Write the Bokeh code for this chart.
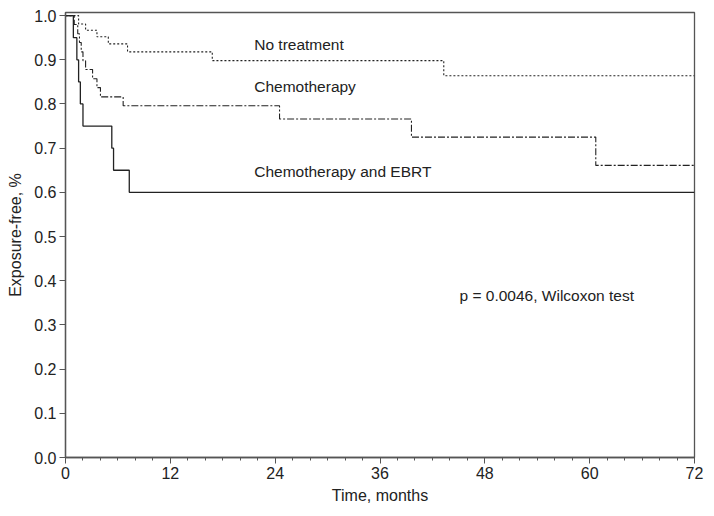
from bokeh.plotting import figure
from bokeh.models import Range1d, FixedTicker, Label, PrintfTickFormatter
from bokeh.embed import file_html
from bokeh.resources import INLINE

# --- data (Kaplan-Meier step curves) ---
nt_time = [0, 1.5, 2.3, 3.6, 4.9, 7.1, 16.8, 43.3, 72]
nt_surv = [1.0, 0.981, 0.967, 0.952, 0.936, 0.918, 0.898, 0.864, 0.864]

ch_time = [0, 1.0, 1.4, 1.6, 1.8, 2.0, 2.3, 3.1, 3.6, 4.0, 6.6, 24.5, 39.6, 60.7, 72]
ch_surv = [1.0, 0.980, 0.959, 0.939, 0.918, 0.898, 0.878, 0.857, 0.837, 0.816, 0.796, 0.766, 0.725, 0.661, 0.661]

ce_time = [0, 0.9, 1.3, 1.5, 1.7, 2.0, 5.3, 5.5, 7.3, 72]
ce_surv = [1.0, 0.95, 0.90, 0.85, 0.80, 0.75, 0.70, 0.65, 0.60, 0.60]

x_ticks = [0, 12, 24, 36, 48, 60, 72]
x_minor = list(range(0, 73, 2))
y_ticks = [0.0, 0.1, 0.2, 0.3, 0.4, 0.5, 0.6, 0.7, 0.8, 0.9, 1.0]

labels = ["No treatment", "Chemotherapy", "Chemotherapy and EBRT"]
p_text = "p = 0.0046, Wilcoxon test"

FONT = "Liberation Sans"
INK = "#222222"
AX = "#555555"

p = figure(width=708, height=508, output_backend="svg", toolbar_location=None,
           x_range=Range1d(0, 72), y_range=Range1d(0, 1.007),
           min_border_left=65, min_border_right=14, min_border_top=12, min_border_bottom=51)

p.xgrid.visible = False
p.ygrid.visible = False
p.background_fill_color = "white"
p.border_fill_color = "white"
p.outline_line_color = AX
p.outline_line_width = 1.3

p.step(nt_time, nt_surv, mode="after", line_color=INK, line_width=1.1, line_dash="2 2")
p.step(ch_time, ch_surv, mode="after", line_color=INK, line_width=1.1, line_dash="7 2 2 2")
p.step(ce_time, ce_surv, mode="after", line_color=INK, line_width=1.3)

for ax in (p.xaxis[0], p.yaxis[0]):
    ax.axis_line_color = AX
    ax.axis_line_width = 1.3
    ax.major_tick_line_color = AX
    ax.minor_tick_line_color = AX
    ax.major_tick_out = 6
    ax.major_tick_in = 0
    ax.major_label_text_font = FONT
    ax.major_label_text_font_size = "16px"
    ax.major_label_text_color = INK
    ax.axis_label_text_font = FONT
    ax.axis_label_text_font_size = "16px"
    ax.axis_label_text_font_style = "normal"
    ax.axis_label_text_color = INK

p.xaxis.ticker = FixedTicker(ticks=x_ticks, minor_ticks=x_minor)
p.xaxis.minor_tick_out = 3
p.xaxis.minor_tick_in = 0
p.xaxis.axis_label = "Time, months"
p.xaxis.axis_label_standoff = 5
p.xaxis.major_label_standoff = 3

p.yaxis.ticker = FixedTicker(ticks=y_ticks, minor_ticks=[])
p.yaxis.formatter = PrintfTickFormatter(format="%.1f")
p.yaxis.axis_label = "Exposure-free, %"
p.yaxis.axis_label_standoff = 7
p.yaxis.major_label_standoff = 3

label_pos = [(21.6, 0.934), (21.6, 0.839), (21.6, 0.647)]
for txt, (lx, ly) in zip(labels, label_pos):
    p.add_layout(Label(x=lx, y=ly, text=txt, text_font=FONT, text_font_size="15.5px",
                       text_color=INK, text_baseline="middle", text_align="left"))
p.add_layout(Label(x=45.1, y=0.367, text=p_text, text_font=FONT, text_font_size="15.5px",
                   text_color=INK, text_baseline="middle", text_align="left"))

open("out.html", "w").write(file_html(p, INLINE))
